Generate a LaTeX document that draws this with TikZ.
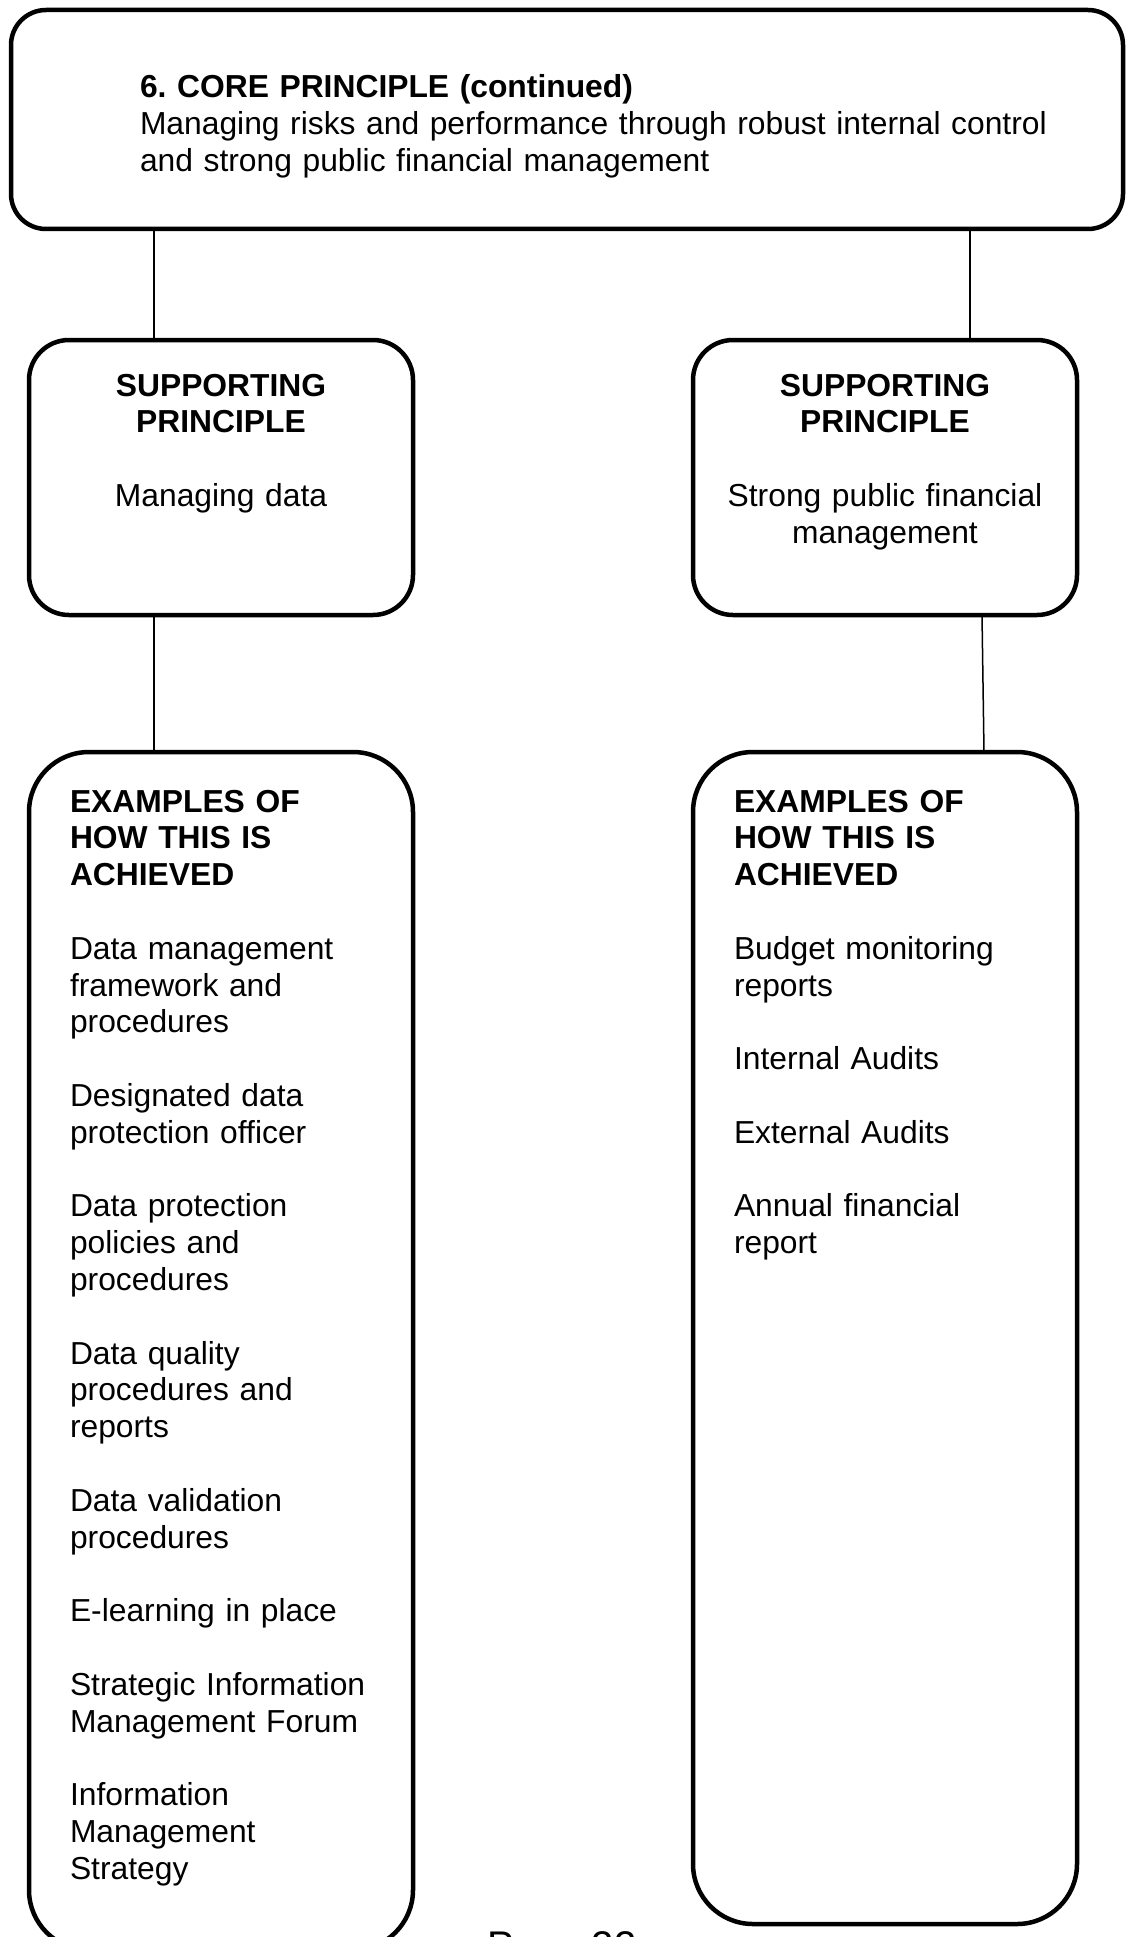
\documentclass[tikz,border=0pt]{standalone}
\usepackage{fontspec}
\setmainfont{Liberation Sans}
\frenchspacing
\begin{document}
\begin{tikzpicture}[x=0.5pt,y=-0.5pt,
  roundbox/.style={draw, line width=2.25pt, rounded corners=#1, inner sep=0pt, outer sep=0pt},
  link/.style={line width=0.75pt},
  txt/.style={inner sep=0pt, outer sep=0pt, font=\fontsize{15.9pt}{18.4pt}\selectfont},
]
\useasboundingbox (0,0) rectangle (1126,1937);
\clip (0,0) rectangle (1126,1937);

% boxes
\node[roundbox=17.5pt, minimum width=556pt, minimum height=109.5pt] (core) at (567,119.5) {};
\node[roundbox=20pt, minimum width=192pt, minimum height=137.5pt] (supL) at (221,477.5) {};
\node[roundbox=20pt, minimum width=192pt, minimum height=137.5pt] (supR) at (885,477.5) {};
\node[roundbox=30pt, minimum width=192pt, minimum height=586pt] (exR) at (885,1338) {};
\node[roundbox=30pt, minimum width=192pt, minimum height=599pt] (exL) at (221,1351) {};

% connectors
\draw[link] ([xshift=-33.5pt]supL.north |- core.south) -- ([xshift=-33.5pt]supL.north);
\draw[link] ([xshift=42.5pt]supR.north |- core.south) -- ([xshift=42.5pt]supR.north);
\draw[link] ([xshift=-33.5pt]supL.south) -- ([xshift=-33.5pt]supL.south |- exL.north);
\draw[link] ([xshift=48.5pt]supR.south) -- ([xshift=49.5pt]exR.north);

% texts
\node[txt, anchor=base west, text width=480pt, align=left] (coreT) at (140,98)
  {\textbf{6. CORE PRINCIPLE (continued)}\\Managing risks and performance through robust internal control\\and strong public financial management};

\node[txt, anchor=base, text width=180pt, align=center] (supLT) at (221,396)
  {\textbf{SUPPORTING}\\\textbf{PRINCIPLE}\\[18.4pt]Managing data};
\node[txt, anchor=base, text width=180pt, align=center] (supRT) at (885,396)
  {\textbf{SUPPORTING}\\\textbf{PRINCIPLE}\\[18.4pt]Strong public financial\\management};

\node[txt, anchor=base west, text width=170pt, align=left] (exLT) at (70,812)
  {\textbf{EXAMPLES OF}\\\textbf{HOW THIS IS}\\\textbf{ACHIEVED}\\[18.4pt]
   Data management\\framework and\\procedures\\[18.4pt]
   Designated data\\protection officer\\[18.4pt]
   Data protection\\policies and\\procedures\\[18.4pt]
   Data quality\\procedures and\\reports\\[18.4pt]
   Data validation\\procedures\\[18.4pt]
   E-learning in place\\[18.4pt]
   Strategic Information\\Management Forum\\[18.4pt]
   Information\\Management\\Strategy};

\node[txt, anchor=base west, text width=170pt, align=left] (exRT) at (734,812)
  {\textbf{EXAMPLES OF}\\\textbf{HOW THIS IS}\\\textbf{ACHIEVED}\\[18.4pt]
   Budget monitoring\\reports\\[18.4pt]
   Internal Audits\\[18.4pt]
   External Audits\\[18.4pt]
   Annual financial\\report};

\node[inner sep=0pt, anchor=base west, font=\fontsize{20pt}{23pt}\selectfont] (page) at (487,1959) {Page 22};
\end{tikzpicture}
\end{document}
